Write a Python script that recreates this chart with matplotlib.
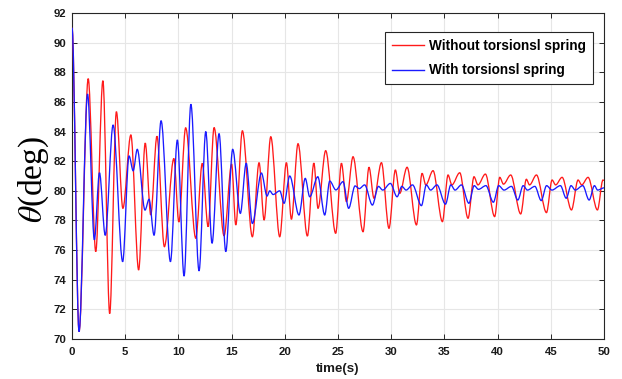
import matplotlib
matplotlib.use("Agg")
import matplotlib.pyplot as plt
from matplotlib.path import Path
from matplotlib.patches import PathPatch
from matplotlib.lines import Line2D

# ---- data: extrema (time s, angle deg) ----
red_t = [0, 0.66, 1.52, 2.23, 2.9, 3.54, 4.17, 4.78, 5.53, 6.26, 6.88, 7.4, 7.98, 8.68,
         9.57, 10.04, 10.68, 11.63, 12.24, 12.79, 13.35, 14.29, 15.0, 15.39, 16.01, 16.95,
         17.58, 18.05, 18.68, 19.52, 20.15, 20.62, 21.24, 22.12, 22.73, 23.12, 23.84, 24.78,
         25.32, 25.79, 26.41, 27.35, 27.91, 28.38, 29.08, 29.79, 30.39, 30.8, 31.49, 32.37,
         32.9, 33.25, 33.93, 34.81, 35.34, 35.7, 36.44, 37.22, 37.78, 38.15, 38.85, 39.72,
         40.2, 40.55, 41.23, 42.17, 42.7, 43.0, 43.65, 44.59, 45.12, 45.45, 46.06, 46.94,
         47.56, 47.9, 48.5, 49.38, 49.9, 50.0]
red_v = [91.0, 70.5, 87.57, 75.9, 87.43, 71.72, 85.34, 78.82, 83.77, 74.66, 83.22, 78.37, 83.68, 76.23,
         82.18, 77.9, 84.25, 76.8, 81.85, 77.58, 84.27, 76.97, 81.8, 77.7, 84.05, 76.9,
         81.9, 78.03, 83.65, 76.9, 81.9, 78.08, 83.18, 76.95, 81.87, 78.82, 82.71, 77.13,
         81.86, 79.27, 82.3, 77.24, 81.59, 79.5, 81.9, 77.47, 81.41, 79.83, 81.59, 77.7,
         81.18, 80.4, 81.36, 77.92, 81.07, 80.4, 81.22, 78.15, 80.95, 80.4, 81.13, 78.26,
         80.91, 80.45, 81.07, 78.44, 80.78, 80.4, 81.07, 78.53, 80.73, 80.4, 80.91, 78.71,
         80.73, 80.4, 80.91, 78.71, 80.73, 80.7]

blue_t = [0, 0.66, 1.46, 2.1, 2.58, 3.12, 3.86, 4.76, 5.36, 5.75, 6.13, 6.86, 7.24, 7.71,
          8.37, 9.25, 9.9, 10.53, 11.17, 11.94, 12.57, 13.16, 13.82, 14.45, 15.1, 15.82,
          16.37, 16.95, 17.8, 18.33, 18.58, 18.9, 19.52, 19.93, 20.46, 21.33, 21.92, 22.34,
          23.1, 23.75, 24.22, 24.8, 25.47, 26.0, 26.6, 27.0, 27.5, 28.23, 28.8, 29.2, 29.92,
          30.55, 31.0, 31.4, 32.0, 32.84, 33.3, 33.7, 34.3, 35.1, 35.6, 36.0, 36.6, 37.3,
          37.8, 38.2, 38.9, 39.6, 40.1, 40.6, 41.3, 41.9, 42.4, 42.8, 43.5, 44.1, 44.6, 45.1,
          45.9, 46.45, 46.9, 47.3, 48.0, 48.6, 49.1, 49.4, 50.0]
blue_v = [91.0, 70.5, 86.53, 76.7, 81.22, 77.0, 84.44, 75.22, 82.35, 81.35, 82.8, 78.7, 79.43, 77.0,
          84.73, 75.22, 83.43, 74.25, 85.84, 74.6, 84.0, 76.46, 83.86, 75.9, 82.8, 78.48,
          81.86, 77.8, 81.2, 79.65, 80.0, 79.75, 80.0, 79.16, 81.0, 78.37, 80.84, 79.6,
          80.95, 78.37, 80.66, 80.06, 80.62, 78.82, 80.33, 80.15, 80.4, 79.04, 80.3, 80.05, 80.5,
          79.6, 80.3, 80.05, 80.4, 79.0, 80.4, 80.05, 80.4, 79.1, 80.4, 80.05, 80.4, 79.16,
          80.35, 80.1, 80.35, 79.23, 80.35, 80.05, 80.3, 79.38, 80.35, 80.05, 80.3, 79.34, 80.35, 80.05,
          80.35, 79.5, 80.35, 80.05, 80.35, 79.38, 80.35, 80.05, 80.2]

labels = ["Without torsionsl spring", "With torsionsl spring"]
x_ticks = list(range(0, 51, 5))
y_ticks = list(range(70, 93, 2))


def smooth_path(ts, vs):
    verts = [(ts[0], vs[0])]
    codes = [Path.MOVETO]
    for i in range(len(ts) - 1):
        dt = ts[i + 1] - ts[i]
        verts += [(ts[i] + dt / 3, vs[i]), (ts[i + 1] - dt / 3, vs[i + 1]), (ts[i + 1], vs[i + 1])]
        codes += [Path.CURVE4] * 3
    return Path(verts, codes)


plt.rcParams['mathtext.fontset'] = 'stix'
fig = plt.figure(figsize=(6.22, 3.79), dpi=100)
ax = fig.add_axes([0.1158, 0.1055, 0.8553, 0.8602])

ax.add_patch(PathPatch(smooth_path(red_t, red_v), fill=False, edgecolor='#ff1a1a', lw=0.95, zorder=3))
ax.add_patch(PathPatch(smooth_path(blue_t, blue_v), fill=False, edgecolor='#1a1aff', lw=0.95, zorder=4))

ax.set_xlim(0, 50)
ax.set_ylim(70, 92)
ax.set_xticks(x_ticks)
ax.set_yticks(y_ticks)
ax.grid(True, color='#e6e6e6', lw=0.8)
ax.set_axisbelow(True)
ax.tick_params(direction='in', length=3.5, width=0.7, top=True, right=True,
               colors='#262626', labelcolor='#1a1a1a')
ax.tick_params(axis='x', pad=6)
ax.tick_params(axis='y', pad=4)
for lab in ax.get_xticklabels() + ax.get_yticklabels():
    lab.set_fontfamily('Liberation Sans')
    lab.set_fontweight('bold')
    lab.set_fontsize(8.2)
for s in ax.spines.values():
    s.set_color('#262626')
    s.set_linewidth(0.8)

ax.set_xlabel('time(s)', fontfamily='Liberation Sans', fontweight='bold', fontsize=9.6, color='#1a1a1a')
ax.xaxis.set_label_coords(0.5, -0.075)
ax.set_ylabel(r'$\theta$(deg)', fontfamily='Liberation Serif', fontsize=24)
ax.yaxis.set_label_coords(-0.04, 0.49)

handles = [Line2D([], [], color='#ff1a1a', lw=1.0), Line2D([], [], color='#1a1aff', lw=1.0)]
leg = ax.legend(handles, labels, loc='upper right', bbox_to_anchor=(0.9788, 0.9426),
                borderaxespad=0, fancybox=False, framealpha=1, edgecolor='#262626',
                prop={'family': 'Liberation Sans', 'weight': 'bold', 'size': 9.8},
                handlelength=2.35, handletextpad=0.4, labelspacing=0.8, borderpad=0.5)
leg.get_frame().set_linewidth(0.8)

fig.savefig('out.png', dpi=100)
